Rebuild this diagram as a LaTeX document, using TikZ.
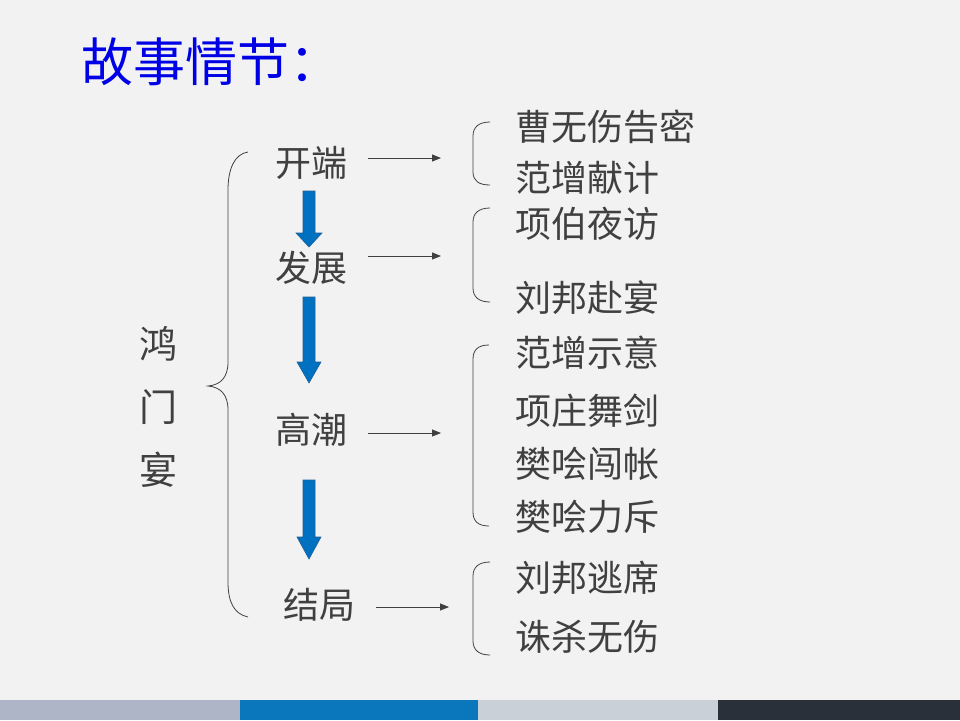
\documentclass[tikz,border=0pt]{standalone}
\usepackage{fontspec}
\setmainfont{Noto Sans CJK SC}
\usetikzlibrary{arrows.meta}
\definecolor{bg}{HTML}{F2F2F2}
\definecolor{txt}{HTML}{404040}
\definecolor{ttl}{RGB}{0,0,230}
\definecolor{flow}{HTML}{0070C0}
\definecolor{flowedge}{HTML}{1F5F99}
\definecolor{barA}{HTML}{ADB5C6}
\definecolor{barB}{HTML}{0A77BD}
\definecolor{barC}{HTML}{C9D0D8}
\definecolor{barD}{HTML}{29303A}
\tikzset{
  lbl/.style={text=txt,inner sep=0pt,font=\fontsize{36}{36}\selectfont},
  item/.style={text=txt,inner sep=0pt,anchor=west,font=\fontsize{36}{36}\selectfont},
  smallarrow/.style={draw=txt,line width=0.8pt,-{Triangle[length=9pt,width=7pt]}},
  bracketline/.style={draw=txt,line width=0.8pt},
  bigflow/.style={fill=flow,draw=flowedge,line width=0.6pt}
}
\begin{document}
\begin{tikzpicture}[x=1pt,y=-1pt]
\useasboundingbox (0,0) rectangle (960,720);
\fill[bg] (0,0) rectangle (960,720);
\fill[barA] (0,700) rectangle (240,720);
\fill[barB] (240,700) rectangle (478,720);
\fill[barC] (478,700) rectangle (718,720);
\fill[barD] (718,700) rectangle (960,720);

% title
\node[anchor=west,text=ttl,inner sep=0pt,font=\fontsize{52}{52}\selectfont] (title) at (81,62) {故事情节：};

% left vertical label
\node[lbl,font=\fontsize{38}{38}\selectfont] (c1) at (158,344) {鸿};
\node[lbl,font=\fontsize{38}{38}\selectfont] (c2) at (158,407) {门};
\node[lbl,font=\fontsize{38}{38}\selectfont] (c3) at (158,470) {宴};

% big brace
\draw[bracketline] (248,152) .. controls (234,154) and (228,170) .. (228,190)
  -- (228,362) .. controls (228,378) and (220,385) .. (208,386)
  .. controls (220,387) and (228,394) .. (228,410)
  -- (228,582) .. controls (228,602) and (234,614) .. (248,617);

% stages
\node[lbl] (s1) at (311,163) {开端};
\node[lbl] (s2) at (311,268) {发展};
\node[lbl] (s3) at (311,430) {高潮};
\node[lbl] (s4) at (319,605) {结局};

% blue flow arrows
\draw[bigflow] (303,191) -- (315,191) -- (315,233) -- (322,233) -- (309,247) -- (296,233) -- (303,233) -- cycle;
\draw[bigflow] (303,297) -- (315,297) -- (315,362) -- (321,362) -- (309,383) -- (297,362) -- (303,362) -- cycle;
\draw[bigflow] (303,480) -- (315,480) -- (315,537) -- (321,537) -- (309,559) -- (297,537) -- (303,537) -- cycle;

% small arrows
\coordinate (a1s) at (368,158); \coordinate (a1e) at (441,158);
\coordinate (a2s) at (368,256); \coordinate (a2e) at (441,256);
\coordinate (a3s) at (368,433); \coordinate (a3e) at (441,433);
\coordinate (a4s) at (376,607); \coordinate (a4e) at (449,607);
\draw[smallarrow] (a1s) -- (a1e);
\draw[smallarrow] (a2s) -- (a2e);
\draw[smallarrow] (a3s) -- (a3e);
\draw[smallarrow] (a4s) -- (a4e);

% right brackets
\draw[bracketline] (490,122) .. controls (479,122) and (473,127) .. (473,136) -- (473,172) .. controls (473,181) and (479,185) .. (490,185);
\draw[bracketline] (490,208) .. controls (479,208) and (473,213) .. (473,222) -- (473,288) .. controls (473,297) and (479,302) .. (490,302);
\draw[bracketline] (489,345) .. controls (478,345) and (473,350) .. (473,359) -- (473,512) .. controls (473,521) and (478,526) .. (489,526);
\draw[bracketline] (490,562) .. controls (479,562) and (473,567) .. (473,576) -- (473,641) .. controls (473,650) and (479,655) .. (490,655);

% items
\node[item] (i1) at (515,127) {曹无伤告密};
\node[item] (i2) at (515,178) {范增献计};
\node[item] (i3) at (515,224) {项伯夜访};
\node[item] (i4) at (515,298) {刘邦赴宴};
\node[item] (i5) at (515,353) {范增示意};
\node[item] (i6) at (515,411) {项庄舞剑};
\node[item] (i7) at (515,464) {樊哙闯帐};
\node[item] (i8) at (515,517) {樊哙力斥};
\node[item] (i9) at (515,578) {刘邦逃席};
\node[item] (i10) at (515,637) {诛杀无伤};
\end{tikzpicture}
\end{document}
